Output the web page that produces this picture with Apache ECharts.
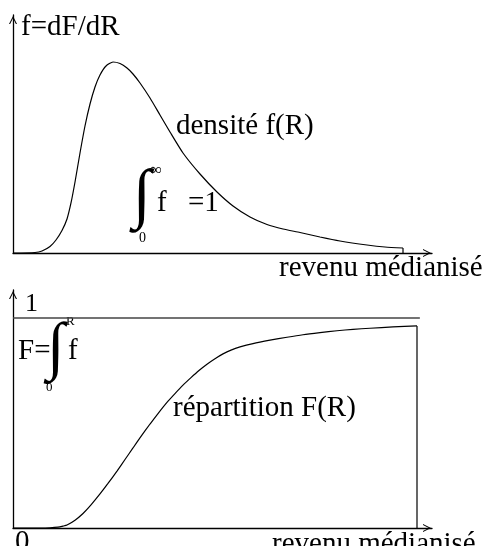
<!DOCTYPE html>
<html><head><meta charset="utf-8">
<script src="https://cdn.jsdelivr.net/npm/echarts@6/dist/echarts.min.js"></script>
<style>html,body{margin:0;padding:0;background:#fff}#c{width:484px;height:546px}</style>
</head><body><div id="c"></div>
<script>
// revenu médianisé on both panels: axis units 0..100
const densiteR = [0, 5.25, 6.92, 8.83, 10.26, 11.69, 12.89, 13.84, 14.80, 15.99, 17.18, 18.38, 19.57, 20.76, 22.20, 23.87, 25.54, 27.21, 28.64, 30.31, 32.70, 35.08, 37.47, 40.57, 44.63, 48.69, 52.51, 56.56, 60.62, 64.44, 68.50, 73.27, 78.04, 84.49, 88.78, 93.08];
const densiteF = [0, 0.21, 0.84, 2.73, 5.46, 9.45, 14.29, 21.01, 29.83, 42.02, 53.36, 62.61, 69.75, 74.79, 78.57, 80.25, 79.62, 77.73, 75.21, 71.43, 65.13, 57.98, 50.84, 42.02, 33.19, 25.63, 19.75, 15.13, 11.97, 10.08, 8.61, 6.72, 5.04, 3.36, 2.52, 2.10];
const repartR = [0, 6.44, 8.83, 10.74, 11.93, 12.89, 14.80, 16.71, 18.62, 20.76, 22.67, 24.82, 26.73, 28.64, 30.55, 32.70, 34.61, 36.75, 38.66, 40.57, 42.48, 44.39, 46.30, 48.21, 50.12, 52.03, 54.18, 57.28, 61.34, 65.39, 69.21, 73.27, 77.33, 81.15, 85.20, 90.69, 96.42];
const repartF = [0, 0, 0.001, 0.004, 0.009, 0.014, 0.037, 0.069, 0.110, 0.162, 0.212, 0.271, 0.326, 0.381, 0.436, 0.495, 0.545, 0.598, 0.640, 0.680, 0.716, 0.750, 0.780, 0.806, 0.829, 0.847, 0.862, 0.878, 0.894, 0.908, 0.920, 0.930, 0.939, 0.946, 0.951, 0.957, 0.962];
const niveauUnR = [0, 97.1];
const niveauUn = 1;
const tickLabels = ['0', '1'];
const xAxisName = 'revenu médianisé';

const zip = (a, b) => a.map((v, i) => [v, b[i]]);
const FONT = '"Liberation Serif", "Times New Roman", serif';
const ARROW = 'path://M0,10L5,0L10,10L8.6,10L5,2.8L1.4,10Z';

function axisLine() {
  return { show: true, onZero: true, lineStyle: { color: '#000', width: 1.3 },
    symbol: ['none', ARROW], symbolSize: [8, 10], symbolOffset: [0, -5] };
}
function xa(g) {
  return { gridIndex: g, type: 'value', min: 0, max: 100, axisLine: axisLine(),
    axisTick: { show: false }, axisLabel: { show: false }, splitLine: { show: false } };
}
function ya(g, max) {
  return { gridIndex: g, type: 'value', min: 0, max: max, axisLine: axisLine(),
    axisTick: { show: false }, axisLabel: { show: false }, splitLine: { show: false } };
}
function txt(text, x, y, size, weight) {
  return { type: 'text', x: x, y: y, silent: true,
    style: { text: text, font: (weight || 'normal') + ' ' + size + 'px ' + FONT, fill: '#000', verticalAlign: 'middle', align: 'left' } };
}
const line = (xi, data, w, color, smooth) => ({
  type: 'line', xAxisIndex: xi, yAxisIndex: xi, data: data, smooth: smooth || false,
  showSymbol: false, symbol: 'none', silent: true,
  lineStyle: { color: color || '#000', width: w }
});

const chart = echarts.init(document.getElementById('c'));
chart.setOption({
  animation: false,
  backgroundColor: '#fff',
  grid: [
    { left: 13, top: 15, width: 419, height: 238 },
    { left: 13, top: 290, width: 419, height: 238 }
  ],
  xAxis: [xa(0), xa(1)],
  yAxis: [ya(0, 100), ya(1, 1.133)],
  series: [
    line(0, zip(densiteR, densiteF), 1.2, '#000', 0.2),
    line(0, [[densiteR[densiteR.length - 1], densiteF[densiteF.length - 1]], [densiteR[densiteR.length - 1], 0]], 1.2),
    line(1, zip(repartR, repartF), 1.2, '#000', 0.2),
    line(1, [[repartR[repartR.length - 1], repartF[repartF.length - 1]], [repartR[repartR.length - 1], 0]], 1.2),
    line(1, [[niveauUnR[0], niveauUn], [niveauUnR[1], niveauUn]], 1.5, '#444')
  ],
  graphic: [
    txt('f=dF/dR', 21, 27, 29),
    txt('densité f(R)', 176, 126, 29),
    txt(xAxisName, 279, 268, 29),
    txt('∫', 133, 198, 66, 'bold'),
    txt('∞', 150, 171, 17),
    txt('0', 139, 238, 14),
    txt('f', 157, 203, 29),
    txt('=1', 188, 203, 29),
    txt(tickLabels[1], 25, 304, 26),
    txt('F=', 18, 351, 29),
    txt('∫', 47, 350, 64, 'bold'),
    txt('R', 66, 322, 13),
    txt('0', 46, 388, 13),
    txt('f', 68, 351, 29),
    txt('répartition F(R)', 173, 408, 29),
    txt(tickLabels[0], 15, 542, 29),
    txt(xAxisName, 272, 544, 29)
  ]
});
</script></body></html>
